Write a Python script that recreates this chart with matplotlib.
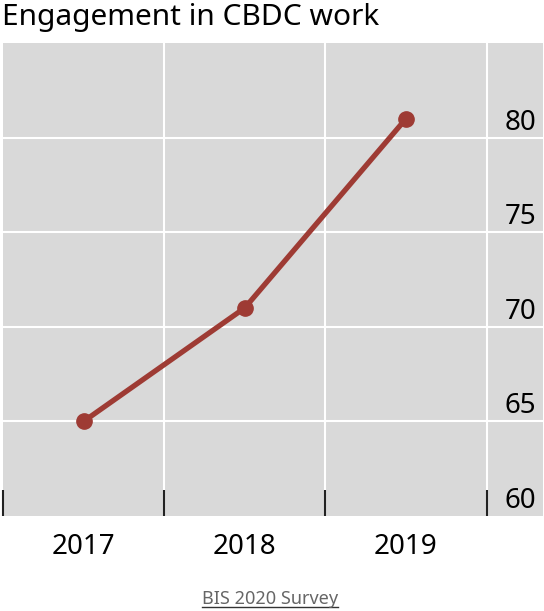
import matplotlib
matplotlib.use('Agg')
import matplotlib.pyplot as plt
from matplotlib.lines import Line2D

years = ['2017', '2018', '2019']
engagement = [65, 71, 81]
y_ticks = [60, 65, 70, 75, 80]

plt.rcParams['font.family'] = ['Noto Sans', 'DejaVu Sans']

fig = plt.figure(figsize=(5.44, 6.11), dpi=100)
ax = fig.add_axes([3 / 544, 95 / 611, 540 / 544, 473 / 611])
ax.set_facecolor('#d9d9d9')

x = list(range(len(years)))
ax.plot(x, engagement, color='#9e3b34', lw=3.8, marker='o', ms=11, zorder=3)

ax.set_xlim(-0.5, 2.85)
ax.set_ylim(60, 85)

# gridlines at category boundaries and y ticks
for b in [0.5, 1.5, 2.5]:
    ax.axvline(b, color='white', lw=1.5, zorder=1)
for v in y_ticks[1:]:
    ax.axhline(v, color='white', lw=1.5, zorder=1)

# boundary tick marks at the bottom, pointing inward
ax.set_xticks([-0.5, 0.5, 1.5, 2.5])
ax.set_xticklabels([])
ax.tick_params(axis='x', which='major', direction='in', length=19, width=1.5, color='#222222')
ax.set_xticks(x, minor=True)
ax.set_xticklabels(years, minor=True, fontsize=20)
ax.tick_params(axis='x', which='minor', length=0, pad=12)

ax.set_yticks([])
for v in y_ticks:
    ax.text(2.81, v + 0.05, str(v), ha='right', va='bottom', fontsize=20)

for s in ax.spines.values():
    s.set_visible(False)

fig.text(2 / 544, 1 - 17 / 611, 'Engagement in CBDC work', fontsize=21.5, va='center', ha='left')

foot = fig.text(270 / 544, 1 - 599 / 611, 'BIS 2020 Survey', fontsize=13, color='#666666',
                ha='center', va='center')
fig.canvas.draw()
bb = foot.get_window_extent().transformed(fig.transFigure.inverted())
fig.add_artist(Line2D([bb.x0, bb.x1], [bb.y0 + 0.002, bb.y0 + 0.002],
                      transform=fig.transFigure, color='#333333', lw=1))

fig.savefig('out.png', dpi=100)
